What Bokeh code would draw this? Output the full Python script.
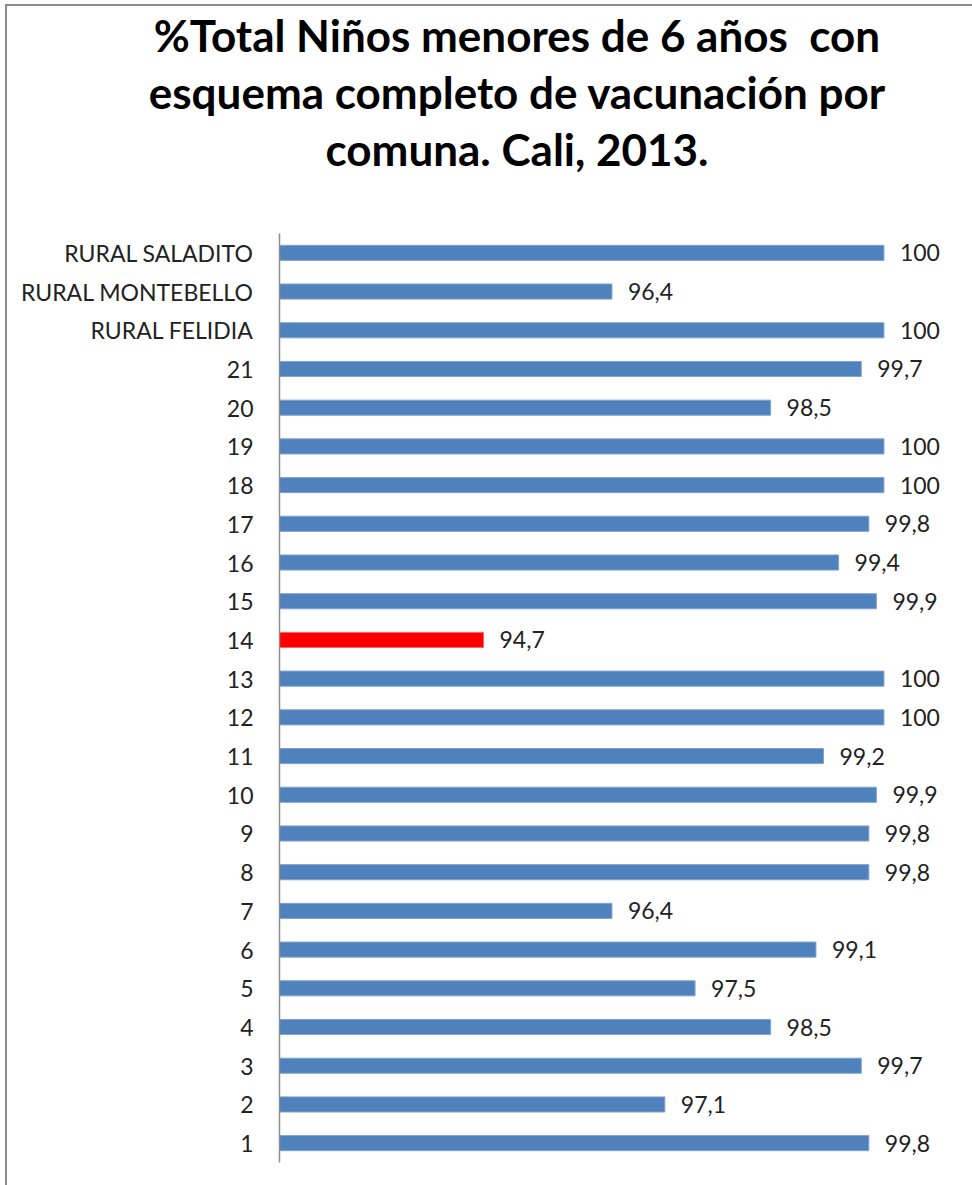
from bokeh.plotting import figure
from bokeh.models import ColumnDataSource, LabelSet, Range1d, Div
from bokeh.layouts import column
from bokeh.core.properties import value
from bokeh.embed import file_html
from bokeh.resources import INLINE

comunas = ["1", "2", "3", "4", "5", "6", "7", "8", "9", "10", "11", "12", "13", "14",
           "15", "16", "17", "18", "19", "20", "21", "RURAL FELIDIA", "RURAL MONTEBELLO",
           "RURAL SALADITO"]
porcentaje = [99.8, 97.1, 99.7, 98.5, 97.5, 99.1, 96.4, 99.8, 99.8, 99.9, 99.2, 100, 100, 94.7,
              99.9, 99.4, 99.8, 100, 100, 98.5, 99.7, 100, 96.4, 100]
destacada = "14"
title_lines = ["%Total Niños menores de 6 años&nbsp; con",
               "esquema completo de vacunación por",
               "comuna. Cali, 2013."]

X_START, X_END = 92, 101
BLUE = "#4F81BD"
RED = "#FF0000"


def fmt(v):
    s = ("%.1f" % v).rstrip("0").rstrip(".")
    return s.replace(".", ",")


src = ColumnDataSource(dict(
    cat=comunas,
    val=porcentaje,
    left=[X_START] * len(comunas),
    color=[RED if c == destacada else BLUE for c in comunas],
    line=["#FF6666" if c == destacada else "#7FA3D0" for c in comunas],
    lab=[fmt(v) for v in porcentaje],
))

W = 965
TITLE_H = 217
p = figure(width=W, height=962, y_range=comunas, x_range=Range1d(X_START, X_END),
           output_backend="svg", toolbar_location=None, margin=0,
           min_border_left=272, min_border_right=13, min_border_top=10, min_border_bottom=23)

p.hbar(y="cat", left="left", right="val", height=0.39, source=src,
       fill_color="color", line_color="line", line_width=1)

labels = LabelSet(x="val", y="cat", text="lab", source=src, x_offset=16,
                  text_baseline="middle", text_align="left",
                  text_font=value("Lato"), text_font_size="23px", text_color="#222222")
p.add_layout(labels)

p.xaxis.visible = False
p.xgrid.visible = False
p.ygrid.visible = False
p.outline_line_color = None

ax = p.yaxis[0]
ax.axis_line_color = "#8c8c8c"
ax.axis_line_width = 1.5
ax.major_tick_line_color = None
ax.minor_tick_line_color = None
ax.major_tick_out = 0
ax.major_tick_in = 0
ax.major_label_standoff = 26
ax.major_label_text_font = "Lato"
ax.major_label_text_font_size = "23px"
ax.major_label_text_color = "#222222"

title = Div(text="<br>".join(title_lines), width=W, height=TITLE_H, margin=0,
            styles={"font-family": "Lato", "font-weight": "bold", "font-size": "44px",
                    "line-height": "57px", "text-align": "center", "color": "#000000",
                    "padding-left": "55px", "padding-top": "1px", "box-sizing": "border-box",
                    "width": f"{W}px"})

layout = column(title, p, spacing=0, margin=0,
                styles={"border-left": "2px solid #8c8c8c", "border-top": "2px solid #8c8c8c",
                        "margin-left": "5px", "margin-top": "4px"})

open("out.html", "w").write(file_html(layout, INLINE))
